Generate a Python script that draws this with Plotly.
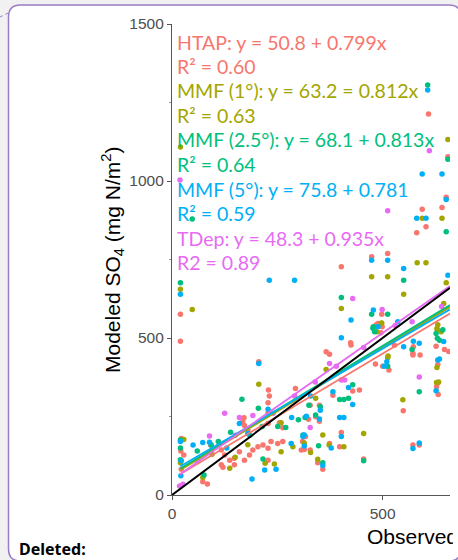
import plotly.graph_objects as go

# ---------------- data ----------------
series_names = ["HTAP", "MMF (1°)", "MMF (2.5°)", "MMF (5°)", "TDep"]
series_colors = ["#F8766D", "#A3A500", "#00BF7D", "#00B0F6", "#E76BF3"]

htap_obs = [20,20,22,21,28,22,73,84,92,117,125,137,148,160,172,184,192,204,216,228,
            235,251,263,307,310,117,121,148,228,171,168,172,180,228,255,263,229,231,228,228,
            293,206,324,341,350,350,328,382,314,317,328,346,358,374,398,402,429,445,455,366,
            374,402,424,425,474,512,498,489,499,496,485,528,483,500,515,573,572,572,589,627,
            647,657,631,631,628,632,549,572,587,594,641,581,603,609,655,651]
htap_mod = [576,490,180,140,127,82,42,35,159,143,127,111,117,138,111,127,143,154,159,149,
            170,164,170,143,170,96,88,96,111,246,233,221,207,228,230,214,334,315,294,260,
            339,424,241,249,235,286,286,318,145,186,143,103,82,164,154,199,331,334,115,456,
            448,727,485,478,759,769,576,546,536,517,542,477,417,410,398,472,451,446,446,474,
            463,457,416,357,345,320,268,159,159,910,916,835,854,1213,1077,948]

mmf1_obs = [20,20,48,28,20,73,137,221,243,259,259,287,206,231,314,329,341,346,358,373,
            408,455,366,402,474,512,582,603,550,498,486,512,497,513,548,628,633,629,629,639,
            630,631,645,651,655,594,641,95,150,180]
mmf1_mod = [1108,655,591,177,103,56,85,101,99,230,138,154,353,265,166,135,308,114,191,159,
            154,196,400,594,695,695,740,740,639,548,520,437,547,443,303,358,360,406,530,520,
            526,542,610,676,1132,881,881,130,120,160]

mmf25_obs = [607,48,20,20,20,76,93,139,166,205,214,251,216,316,311,325,341,352,348,358,
             398,408,419,429,455,402,474,512,478,481,477,550,512,570,587,627,635,630,643,651,
             655,20,60,110,185,270,300]
mmf25_mod = [1306,879,676,175,112,64,159,200,305,276,218,218,115,247,191,286,255,281,157,103,
             304,304,308,351,109,629,576,576,536,520,531,684,410,463,329,514,493,499,526,838,
             1069,150,140,170,190,215,240]

mmf5_obs = [607,20,231,291,21,22,50,73,89,160,180,228,220,247,190,283,314,284,206,319,
            350,352,329,382,311,314,358,378,402,398,408,419,429,402,425,474,512,550,478,489,
            536,510,504,550,573,587,572,587,627,631,635,645,655,594,641,651,581,603,20,130]
mmf5_mod = [1290,639,684,684,61,109,159,167,168,228,196,273,80,82,51,164,191,247,419,251,
            242,270,315,329,186,156,94,150,186,247,247,342,288,501,557,748,748,721,589,536,
            552,424,410,472,490,483,148,166,332,430,433,489,700,1022,1022,941,881,881,170,150]

tdep_obs = [19,18,26,89,125,160,192,291,328,374,402,410,429,499,570,587,611,512,60,150,
            240,340,390,455,530,640]
tdep_mod = [1003,29,34,188,260,247,253,315,215,419,366,366,626,591,552,376,1096,905,110,190,
            260,360,410,470,540,600]

fit_intercepts = [50.8, 63.2, 68.1, 75.8, 48.3]
fit_slopes = [0.799, 0.812, 0.813, 0.781, 0.935]

eq_labels = ["HTAP: y = 50.8 + 0.799x", "MMF (1°): y = 63.2 = 0.812x",
             "MMF (2.5°): y = 68.1 + 0.813x", "MMF (5°): y = 75.8 + 0.781",
             "TDep: y = 48.3 + 0.935x"]
r2_labels = ["R² = 0.60", "R² = 0.63", "R² = 0.64", "R² = 0.59", "R2 = 0.89"]

x_tick_vals = [0, 500]
y_tick_vals = [0, 500, 1000, 1500]
x_max = 660
y_max = 1500

# ---------------- figure ----------------
W, H = 458, 560
L, R, T, B = 172, 8, 24, 65
pw, ph = W - L - R, H - T - B


def px2paper(px, py):
    return (px - L) / pw, (H - B - py) / ph


obs_all = [htap_obs, mmf1_obs, mmf25_obs, mmf5_obs, tdep_obs]
mod_all = [htap_mod, mmf1_mod, mmf25_mod, mmf5_mod, tdep_mod]

fig = go.Figure()
for name, col, xo, ym in zip(series_names, series_colors, obs_all, mod_all):
    fig.add_trace(go.Scatter(x=xo, y=ym, mode="markers", name=name,
                             marker=dict(color=col, size=5.5, line=dict(width=0)),
                             showlegend=False, hoverinfo="skip"))

for name, col, xo, a, b in zip(series_names, series_colors, obs_all, fit_intercepts, fit_slopes):
    x0, x1 = min(xo), x_max
    fig.add_trace(go.Scatter(x=[x0, x1], y=[a + b * x0, a + b * x1], mode="lines",
                             line=dict(color=col, width=1.8), showlegend=False,
                             hoverinfo="skip"))

fig.add_trace(go.Scatter(x=[0, x_max], y=[0, x_max], mode="lines",
                         line=dict(color="black", width=2), showlegend=False,
                         hoverinfo="skip"))

annotations = []
ann_font = "Lato"
line_y = 42
for i in range(5):
    for txt in (eq_labels[i], r2_labels[i]):
        ax, ay = px2paper(175, line_y)
        annotations.append(dict(text=txt, xref="paper", yref="paper", x=ax, y=ay,
                                xanchor="left", yanchor="middle", showarrow=False,
                                font=dict(family=ann_font, size=19.5, color=series_colors[i])))
        line_y += 24.5

# y title
ax, ay = px2paper(112, 260)
annotations.append(dict(text="Modeled SO<sub>4</sub> (mg N/m<sup>2</sup>)", xref="paper",
                        yref="paper", x=ax, y=ay, textangle=-90, showarrow=False,
                        xanchor="center", yanchor="middle",
                        font=dict(family="Liberation Sans, Arial", size=21, color="black")))
# x title (cut off by the crop)
ax, ay = px2paper(366, 536)
annotations.append(dict(text="Observed SO<sub>4</sub> (mg N/m<sup>2</sup>)", xref="paper",
                        yref="paper", x=ax, y=ay, showarrow=False, xanchor="left",
                        yanchor="middle", width=86, align="left", borderpad=0,
                        font=dict(family="Liberation Sans, Arial", size=21, color="black")))
# Deleted:
ax, ay = px2paper(17, 549)
annotations.append(dict(text="<b>Deleted:</b>", xref="paper", yref="paper", x=ax, y=ay,
                        showarrow=False, xanchor="left", yanchor="middle",
                        font=dict(family="Noto Sans", size=16, color="black")))

# comment balloon shape
bx0, by0 = px2paper(8.5, 5)
bx1, by1 = px2paper(461, 561)
rx = 12 / pw
ry = 12 / ph
path = (f"M {bx0+rx},{by0} L {bx1-rx},{by0} Q {bx1},{by0} {bx1},{by0-ry} "
        f"L {bx1},{by1+ry} Q {bx1},{by1} {bx1-rx},{by1} L {bx0+rx},{by1} "
        f"Q {bx0},{by1} {bx0},{by1+ry} L {bx0},{by0-ry} Q {bx0},{by0} {bx0+rx},{by0} Z")
dx0, dy0 = px2paper(0, 17)
dx1, dy1 = px2paper(8, 13)
shapes = [
    dict(type="path", path=path, xref="paper", yref="paper", layer="below",
         fillcolor="white", line=dict(color="#9a7cc6", width=1.5)),
    dict(type="line", xref="paper", yref="paper", x0=dx0, y0=dy0, x1=dx1, y1=dy1,
         line=dict(color="#9a7cc6", width=1, dash="dot")),
]

axis_common = dict(showgrid=False, zeroline=False, showline=True, linecolor="#555555",
                   linewidth=1.2, ticks="outside", ticklen=4, tickcolor="#555555",
                   tickwidth=1.2,
                   tickfont=dict(family="Liberation Sans, Arial", size=15.5, color="#4d4d4d"))

fig.update_layout(
    width=W, height=H, autosize=False,
    margin=dict(l=L, r=R, t=T, b=B, pad=0),
    paper_bgcolor="#f1f1f1", plot_bgcolor="rgba(255,255,255,0)",
    xaxis=dict(range=[0, x_max], tickvals=x_tick_vals, **axis_common),
    yaxis=dict(range=[0, y_max], tickvals=y_tick_vals,
               minor=dict(dtick=250, ticklen=2, tickcolor="#999999", ticks="outside"),
               **axis_common),
    annotations=annotations, shapes=shapes,
)

fig.write_html(
    "out.html",
    config={"displayModeBar": False},
    post_script="document.body.style.margin='0';document.body.style.overflow='hidden';"
                "document.body.style.background='#f1f1f1';",
)
